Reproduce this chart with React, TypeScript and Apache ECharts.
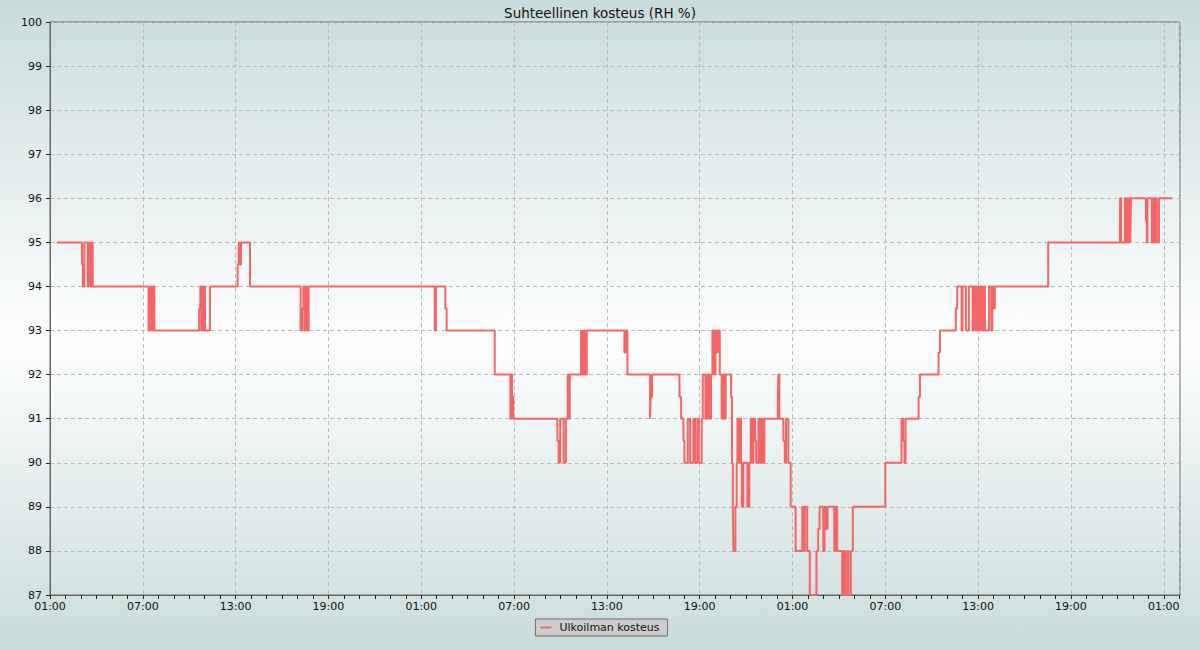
import React, { useEffect, useRef } from "react";
import * as echarts from "echarts";

// Hours elapsed since day 1, 01:00
const times: number[] = [
  0.43, 2.07, 2.13, 2.22, 2.44, 2.5, 2.56, 2.63, 2.69, 2.76,
  6.37, 6.47, 6.6, 6.68, 6.75,
  9.64, 9.72, 9.78, 9.85, 9.92, 9.97, 10.02, 10.34,
  12.13, 12.2, 12.27, 12.35, 12.93,
  16.2, 16.3, 16.38, 16.45, 16.52, 16.6, 16.72,
  24.87, 24.95, 25.56, 25.64,
  28.75, 29.76, 29.82, 29.87, 29.95,
  32.8, 32.88, 32.98, 33.2, 33.35, 33.47, 33.52, 33.6,
  34.33, 34.4, 34.5, 34.58, 34.7,
  37.13, 37.2, 37.33, 38.79, 38.83, 38.92,
  40.69, 40.8, 40.95, 41.01, 41.23, 41.38, 41.59, 41.7, 41.85, 41.94, 42.13,
  42.2, 42.37, 42.5, 42.63, 42.73, 42.82, 42.92, 43.02, 43.08, 43.17, 43.3,
  43.42, 43.52, 43.6, 43.68,
  44.03, 44.09, 44.14, 44.18, 44.31, 44.39, 44.44, 44.55, 44.61, 44.67, 44.72, 44.82,
  45.08, 45.21, 45.3, 45.39, 45.47, 45.58, 45.65, 45.8, 45.9, 46.01, 46.08, 46.18,
  47.05, 47.09, 47.15, 47.41, 47.5, 47.58, 47.73, 47.88, 48.2,
  48.63, 48.72, 48.8, 48.95, 49.12, 49.55,
  49.66, 49.75, 49.99, 50.07, 50.16, 50.27, 50.7, 50.78, 50.89,
  51.21, 51.3, 51.41, 51.55, 51.62, 51.77, 51.9,
  54.0, 55.05, 55.16, 55.24, 55.31, 56.15, 56.24, 57.44, 57.53,
  58.56, 58.65, 58.93, 58.99, 59.21, 59.4, 59.64, 59.7, 59.83, 59.92, 60.05, 60.13, 60.26, 60.35, 60.44,
  60.7, 60.85, 60.92, 61.02, 61.08,
  64.53,
  69.17, 69.24, 69.49, 69.55, 69.62, 69.7, 69.78, 69.84, 69.88,
  70.85, 70.9, 70.95, 71.23, 71.3, 71.38, 71.45, 71.55, 71.69, 72.53,
];

const humidity: number[] = [
  95, 94.5, 94, 95, 94, 95, 94.5, 94, 95, 94,
  93, 94, 93, 94, 93,
  93.5, 94, 93, 94, 93, 94, 93, 94,
  94.5, 95, 94.5, 95, 94,
  93, 93.5, 94, 93, 94, 93, 94,
  93, 94, 93.5, 93,
  92, 91, 92, 91.5, 91,
  90.5, 90, 91, 90, 91, 92, 91, 92,
  93, 92, 93, 92, 93,
  92.5, 93, 92, 91, 91.5, 92,
  91.5, 91, 90.5, 90, 91, 90, 91, 90, 91, 90, 91,
  92, 91, 92, 91, 92, 93, 92, 93, 92.5, 93, 92,
  91, 92, 91, 92,
  91.5, 90, 89, 88, 89, 90, 91, 90, 91, 90, 89, 90,
  89, 90, 91, 90, 91, 90.5, 90, 91, 90, 91, 90, 91,
  91.5, 92, 91, 90.5, 90, 91, 90, 89, 88,
  89, 88, 89, 88, 87, 88,
  88.5, 89, 88, 89, 88.5, 89, 88, 89, 88,
  87, 88, 87, 88, 87, 88, 89,
  90, 91, 90.5, 90, 91, 91.5, 92, 92.5, 93,
  93.5, 94, 93, 94, 93, 94, 93, 94, 93, 94, 93, 94, 93, 94, 93,
  94, 93, 94, 93.5, 94,
  95,
  96, 95, 96, 95, 96, 95, 96, 95, 96,
  95.5, 95, 96, 95, 96, 95, 96, 95, 96, 96,
];

const seriesName = "Ulkoilman kosteus";
const chartTitle = "Suhteellinen kosteus (RH %)";
const xMin = 0;
const xMax = 73.05;
const yMin = 87;
const yMax = 100;

const pad = (n: number) => (n < 10 ? "0" + n : "" + n);
const hourLabel = (v: number) => {
  const r = Math.round(v);
  if (Math.abs(v - r) > 1e-6 || r % 6 !== 0) return "";
  return pad((r + 1) % 24) + ":00";
};

export default function App() {
  const ref = useRef<HTMLDivElement>(null);
  useEffect(() => {
    if (!ref.current) return;
    const chart = echarts.init(ref.current, null, { renderer: "svg" });
    const data = times.map((t, i) => [t, humidity[i]]);
    const font = "'DejaVu Sans', sans-serif";
    chart.setOption({
      animation: false,
      backgroundColor: "transparent",
      textStyle: { fontFamily: font },
      title: {
        text: chartTitle,
        left: "center",
        top: 1,
        textStyle: { fontFamily: font, fontSize: 13.5, fontWeight: "normal", color: "#111" },
      },
      legend: {
        data: [seriesName],
        left: "center",
        top: 619,
        backgroundColor: "#cdcdcd",
        borderColor: "#707070",
        borderWidth: 1,
        borderRadius: 0,
        padding: [3, 8, 3, 5],
        icon: "rect",
        itemWidth: 11,
        itemHeight: 2,
        textStyle: { fontFamily: font, fontSize: 11, color: "#111", padding: [0, 0, 0, 3] },
      },
      grid: {
        left: 50,
        right: 20,
        top: 22,
        bottom: 55,
        show: true,
        borderColor: "#666",
        borderWidth: 1,
        backgroundColor: "transparent",
      },
      xAxis: [
        {
          type: "value",
          min: xMin,
          max: xMax,
          interval: 1,
          axisLine: { show: true, lineStyle: { color: "#666" } },
          axisTick: { show: true, length: 4, lineStyle: { color: "#222" } },
          axisLabel: {
            formatter: hourLabel,
            fontFamily: font,
            fontSize: 11,
            color: "#111",
            margin: 6,
            showMaxLabel: false,
          },
          splitLine: { show: false },
        },
        {
          type: "value",
          min: xMin,
          max: xMax,
          interval: 6,
          position: "bottom",
          axisLine: { show: false },
          axisTick: { show: false },
          axisLabel: { show: false },
          splitLine: { show: true, lineStyle: { color: "#bbb", type: [4, 3], width: 1 } },
        },
      ],
      yAxis: {
        type: "value",
        min: yMin,
        max: yMax,
        interval: 1,
        axisLine: { show: true, lineStyle: { color: "#666" } },
        axisTick: { show: true, length: 4, lineStyle: { color: "#222" } },
        axisLabel: { fontFamily: font, fontSize: 11, color: "#111", margin: 8 },
        splitLine: { show: true, lineStyle: { color: "#bbb", type: [4, 3], width: 1 } },
      },
      series: [
        {
          name: seriesName,
          type: "line",
          xAxisIndex: 0,
          step: "end",
          data,
          symbol: "none",
          lineStyle: { color: "#f46666", width: 2 },
          itemStyle: { color: "#f46666" },
        },
      ],
    });
    return () => chart.dispose();
  }, []);
  return (
    <div
      ref={ref}
      style={{
        position: "fixed",
        left: 0,
        top: 0,
        width: 1200,
        height: 650,
        background: "linear-gradient(to bottom, #c8dcdb 0%, #ffffff 52%, #c8dcdb 100%)",
      }}
    />
  );
}
